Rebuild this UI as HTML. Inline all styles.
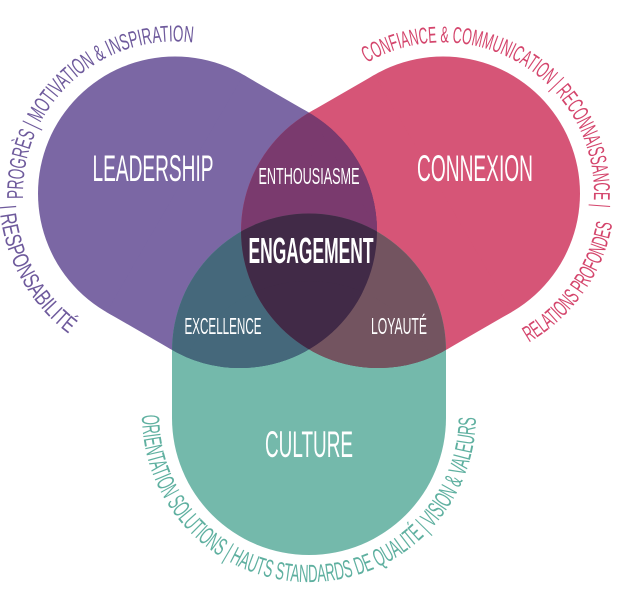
<!DOCTYPE html>
<html><head><meta charset="utf-8"><style>
html,body{margin:0;padding:0;background:#fff;}
svg{display:block;}
text{font-family:"Liberation Sans Narrow","Liberation Sans",sans-serif;}
</style></head><body>
<svg width="620" height="604" viewBox="0 0 620 604" xmlns="http://www.w3.org/2000/svg">
<defs>
<g id="P"><circle cx="240" cy="231" r="137"/><circle cx="175" cy="193.5" r="137"/><polygon points="308.5,112.4 243.5,74.9 106.5,312.1 171.5,349.6"/></g>
<g id="K"><circle cx="378" cy="231" r="137"/><circle cx="443" cy="193.5" r="137"/><polygon points="446.5,349.6 511.5,312.1 374.5,74.9 309.5,112.4"/></g>
<g id="T"><circle cx="309" cy="350.5" r="137"/><circle cx="309" cy="418" r="137"/><rect x="172" y="350.5" width="274" height="67.5"/></g>
<clipPath id="cP"><circle cx="240" cy="231" r="137"/><circle cx="175" cy="193.5" r="137"/><polygon points="308.5,112.4 243.5,74.9 106.5,312.1 171.5,349.6"/></clipPath>
<clipPath id="cK"><circle cx="378" cy="231" r="137"/><circle cx="443" cy="193.5" r="137"/><polygon points="446.5,349.6 511.5,312.1 374.5,74.9 309.5,112.4"/></clipPath>
<path id="a1" d="M23.1,198.8 A152,152 0 0 1 193.6,42.6"/>
<path id="a2" d="M-0.6,205.8 A176,176 0 0 0 71.5,335.9"/>
<path id="a3" d="M367,62.9 A151,151 0 0 1 593.4,206.8"/>
<path id="a4" d="M529,342.5 A172,172 0 0 0 613.3,217.4"/>
<path id="a5" d="M142,415.1 A167,167 0 1 0 476,415.1"/>
</defs>
<use href="#P" fill="#7b67a4"/>
<use href="#K" fill="#d65577"/>
<use href="#T" fill="#74b9ab"/>
<use href="#K" fill="#7a3a6e" clip-path="url(#cP)"/>
<use href="#T" fill="#45687b" clip-path="url(#cP)"/>
<use href="#T" fill="#735460" clip-path="url(#cK)"/>
<g clip-path="url(#cP)"><use href="#T" fill="#412a47" clip-path="url(#cK)"/></g>

<g fill="#fff" text-anchor="middle">
<text x="153" y="181" font-size="37" textLength="121" lengthAdjust="spacingAndGlyphs">LEADERSHIP</text>
<text x="475" y="181" font-size="37" textLength="116" lengthAdjust="spacingAndGlyphs">CONNEXION</text>
<text x="309" y="184" font-size="23" textLength="101" lengthAdjust="spacingAndGlyphs">ENTHOUSIASME</text>
<text x="311" y="263" font-size="36" font-weight="bold" textLength="125" lengthAdjust="spacingAndGlyphs">ENGAGEMENT</text>
<text x="223" y="334" font-size="23" textLength="77" lengthAdjust="spacingAndGlyphs">EXCELLENCE</text>
<text x="399" y="334" font-size="23" textLength="56" lengthAdjust="spacingAndGlyphs">LOYAUTÉ</text>
<text x="309" y="457" font-size="37" textLength="88" lengthAdjust="spacingAndGlyphs">CULTURE</text>
</g>

<text font-size="23" fill="#6e5a9c"><textPath href="#a1" textLength="262" lengthAdjust="spacingAndGlyphs">PROGRÈS   |   MOTIVATION &amp; INSPIRATION</textPath></text>
<text font-size="23" fill="#6e5a9c"><textPath href="#a2" textLength="150" lengthAdjust="spacingAndGlyphs">|   RESPONSABILITÉ</textPath></text>
<text font-size="23" fill="#d4456c"><textPath href="#a3" textLength="330" lengthAdjust="spacingAndGlyphs">CONFIANCE &amp; COMMUNICATION   |   RECONNAISSANCE   |</textPath></text>
<text font-size="23" fill="#d4456c"><textPath href="#a4" textLength="150" lengthAdjust="spacingAndGlyphs">RELATIONS PROFONDES</textPath></text>
<text font-size="25" fill="#5fb0a0"><textPath href="#a5" textLength="522" lengthAdjust="spacingAndGlyphs">ORIENTATION SOLUTIONS   |   HAUTS STANDARDS DE QUALITÉ   |   VISION &amp; VALEURS</textPath></text>
</svg>
</body></html>
